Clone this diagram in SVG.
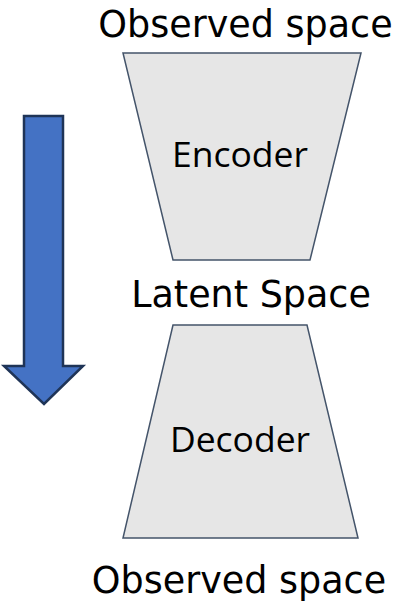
<svg xmlns="http://www.w3.org/2000/svg" width="403" height="602" viewBox="0 0 403 602">
<style>
.lbl{font-family:"DejaVu Sans",Verdana,sans-serif;font-size:36.5px;fill:#000;text-anchor:middle}
.in{font-family:"Open Sans","Noto Sans",sans-serif;font-size:35.5px;fill:#000;text-anchor:middle}
.trap{fill:#E6E6E6;stroke:#44546A;stroke-width:1.5}
.arrow{fill:#4472C4;stroke:#1F3457;stroke-width:2.5}
</style>
<rect width="403" height="602" fill="#fff"/>
<g id="arrow">
<polygon class="arrow" points="24,116 63,116 63,366 83,366 44,404 4,366 24,366"/>
</g>
<g id="encoder">
<polygon class="trap" points="123,53 361,53 310,260 173,260"/>
<text class="in" x="240" y="167">Encoder</text>
</g>
<g id="decoder">
<polygon class="trap" points="173,325 307,325 358,538 123,538"/>
<text class="in" x="240" y="452">Decoder</text>
</g>
<g id="labels">
<text class="lbl" x="245.5" y="37">Observed space</text>
<text class="lbl" x="251" y="307">Latent Space</text>
<text class="lbl" x="239" y="593">Observed space</text>
</g>
<g id="connectors"></g>
</svg>
